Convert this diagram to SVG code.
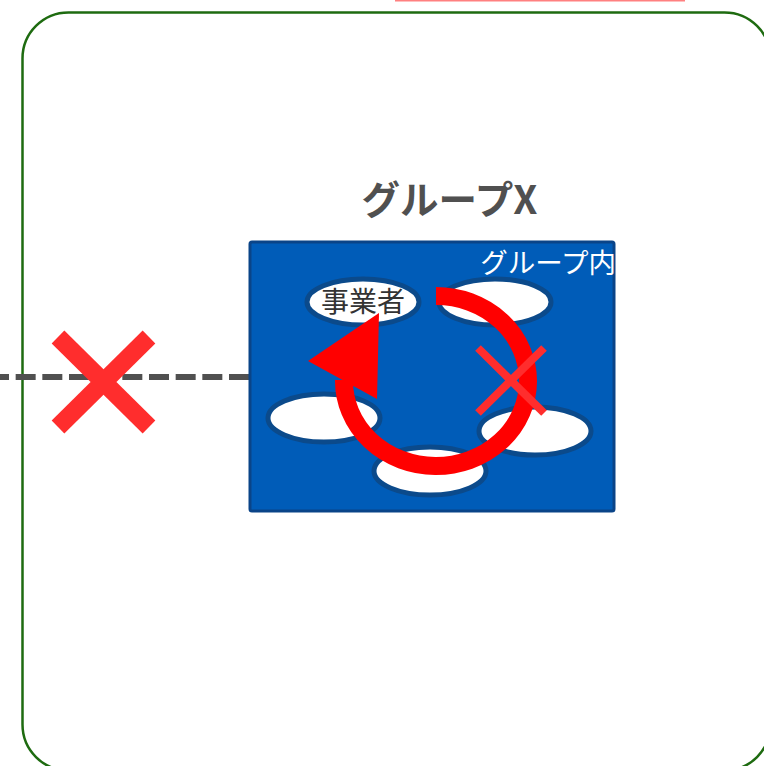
<svg xmlns="http://www.w3.org/2000/svg" width="764" height="766" viewBox="0 0 764 766">
  <style>
    .member { fill: #ffffff; stroke: #0b4a8b; stroke-width: 5; }
    .jp { font-family: "Noto Sans CJK JP", "Noto Sans", sans-serif; }
    .cross { stroke: #ff2d2d; stroke-linecap: butt; fill: none; }
  </style>
  <rect width="764" height="766" fill="#ffffff"/>

  <!-- faint pink bar at top edge -->
  <line x1="395" y1="0.5" x2="685" y2="0.5" stroke="#ff8080" stroke-width="2"/>

  <!-- outer boundary -->
  <g id="outer-boundary">
    <rect x="22.5" y="12.5" width="748" height="758" rx="46" ry="46" fill="none" stroke="#1e6b10" stroke-width="2.5"/>
  </g>

  <!-- connectors -->
  <g id="connectors">
    <line x1="249" y1="377" x2="0" y2="377" stroke="#505050" stroke-width="6" stroke-dasharray="20 6.667"/>
  </g>

  <!-- blocked external link -->
  <g id="blocked-external">
    <line class="cross" x1="58" y1="337" x2="149" y2="427" stroke-width="18"/>
    <line class="cross" x1="58" y1="427" x2="149" y2="337" stroke-width="18"/>
  </g>

  <!-- group X -->
  <g id="group-x">
    <text class="jp" x="449.5" y="214" font-size="38.5" font-weight="bold" fill="#505050" text-anchor="middle">グループX</text>
    <rect x="250" y="242" width="364" height="269" rx="2" fill="#005cb8" stroke="#0a4488" stroke-width="3"/>
    <text class="jp" x="616" y="273" font-size="27.5" fill="#ffffff" text-anchor="end">グループ内</text>
  </g>

  <g id="member-1">
    <ellipse class="member" cx="363" cy="302" rx="56" ry="23"/>
    <text class="jp" x="363" y="312" font-size="28" fill="#333333" text-anchor="middle">事業者</text>
  </g>
  <g id="member-2">
    <ellipse class="member" cx="495" cy="302" rx="56" ry="23"/>
  </g>
  <g id="member-3">
    <ellipse class="member" cx="324" cy="418" rx="56" ry="24"/>
  </g>
  <g id="member-4">
    <ellipse class="member" cx="535" cy="431" rx="56" ry="24"/>
  </g>
  <g id="member-5">
    <ellipse class="member" cx="430" cy="471" rx="56" ry="24"/>
  </g>

  <!-- internal circulation -->
  <g id="internal-cycle">
    <path d="M436,296 A92,85 0 1,1 344,380" fill="none" stroke="#ff0000" stroke-width="18"/>
    <polygon points="308,361 379,313 377,399" fill="#ff0000"/>
  </g>

  <!-- blocked internal link -->
  <g id="blocked-internal">
    <line class="cross" x1="478" y1="348" x2="544" y2="413" stroke-width="8"/>
    <line class="cross" x1="478" y1="413" x2="544" y2="348" stroke-width="8"/>
  </g>
</svg>
